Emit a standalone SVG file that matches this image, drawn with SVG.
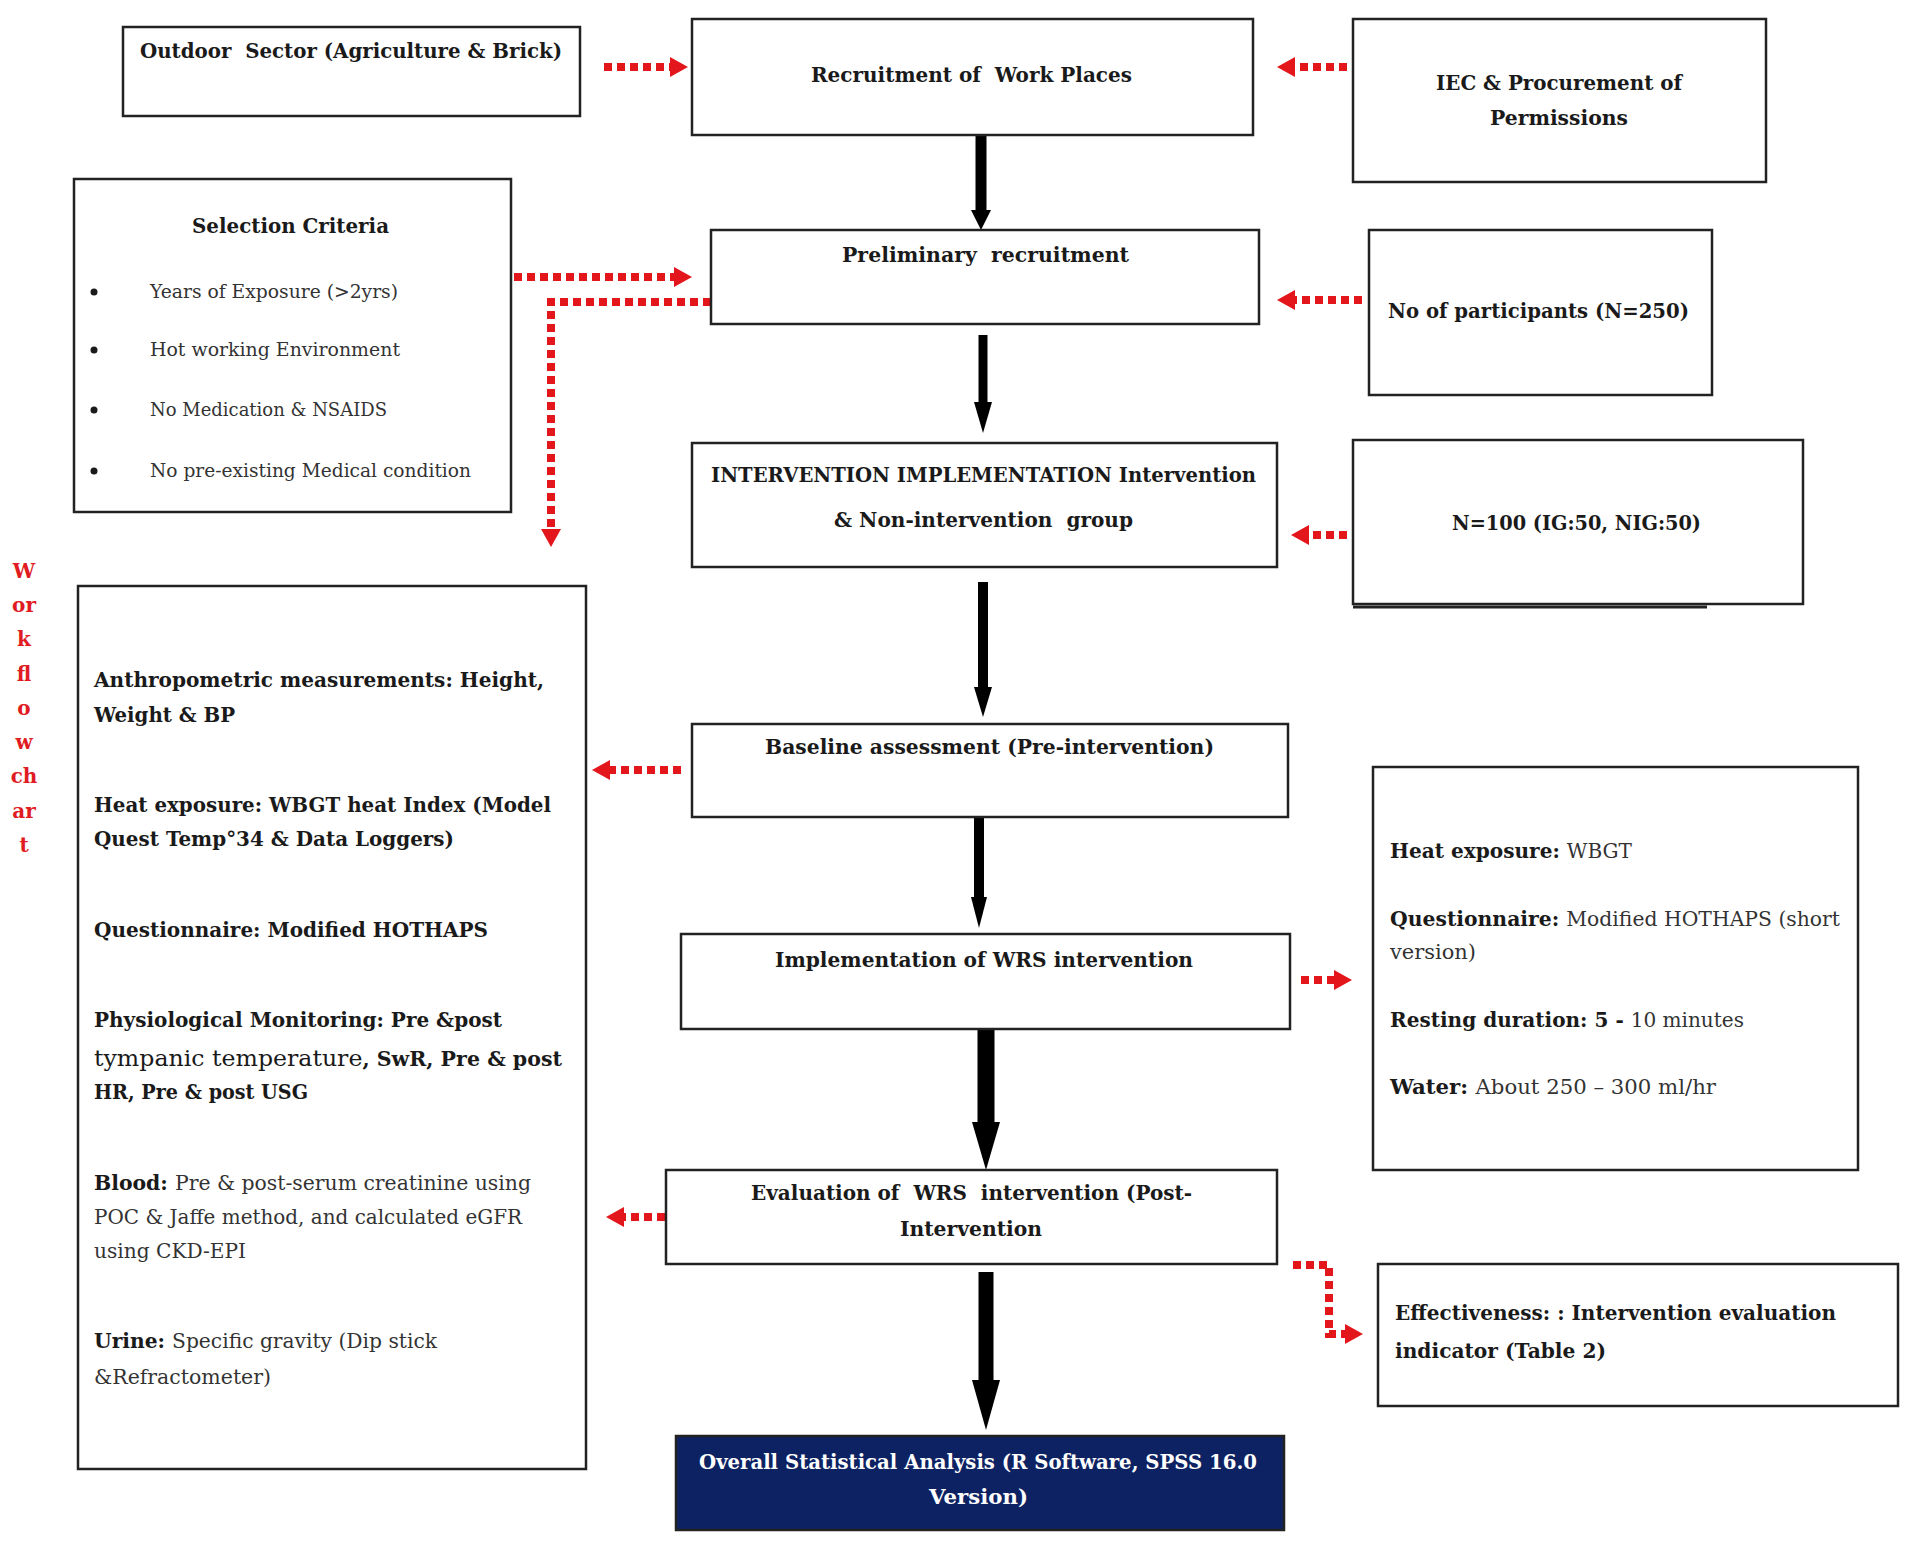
<svg xmlns="http://www.w3.org/2000/svg" width="1907" height="1544" viewBox="0 0 1907 1544">
<style>
.box{fill:#fff;stroke:#222;stroke-width:2.5}
.dark{fill:#0d2262;stroke:#222;stroke-width:2.5}
.t{font-family:"DejaVu Serif","Liberation Serif",serif;font-size:20px;font-weight:bold;fill:#1a1a1a}
.r{font-weight:normal;fill:#333}
.s{font-family:"DejaVu Serif","Liberation Serif",serif;font-size:18px;fill:#333}
.w{fill:#fff}
.v{font-family:"DejaVu Serif","Liberation Serif",serif;font-size:20px;font-weight:bold;fill:#e01b22;text-anchor:middle}
.dot{fill:none;stroke:#e3161c;stroke-width:8;stroke-dasharray:8 5}
.sh{stroke:#000;fill:none}
.hd{fill:#000}
</style>
<defs>
<marker id="rh" markerUnits="userSpaceOnUse" markerWidth="18" markerHeight="20" refX="0" refY="10" orient="auto" overflow="visible">
<path d="M0,0 L18,10 L0,20 z" fill="#e3161c"/>
</marker>
</defs>
<rect width="1907" height="1544" fill="#fff"/>

<g id="connectors">
<path class="dot" d="M604,67 H670" marker-end="url(#rh)"/>
<path class="dot" d="M1347,67 H1295" marker-end="url(#rh)"/>
<path class="dot" d="M514,277 H674" marker-end="url(#rh)"/>
<path class="dot" d="M711,302 H551 V529" marker-end="url(#rh)"/>
<path class="dot" d="M1362,300 H1295" marker-end="url(#rh)"/>
<path class="dot" d="M1347,535 H1309" marker-end="url(#rh)"/>
<path class="dot" d="M681,770 H610" marker-end="url(#rh)"/>
<path class="dot" d="M1301,980 H1334" marker-end="url(#rh)"/>
<path class="dot" d="M665,1217 H624" marker-end="url(#rh)"/>
<path class="dot" d="M1293,1265 H1329 V1334 H1345" marker-end="url(#rh)"/>
<line class="sh" x1="981" y1="136" x2="981" y2="211" stroke-width="11"/>
<polygon class="hd" points="971,210 991,210 981,230"/>
<line class="sh" x1="983" y1="335" x2="983" y2="403" stroke-width="9"/>
<polygon class="hd" points="974,402 992,402 983,433"/>
<line class="sh" x1="983" y1="582" x2="983" y2="688" stroke-width="10"/>
<polygon class="hd" points="974,687 992,687 983,717"/>
<line class="sh" x1="979" y1="818" x2="979" y2="898" stroke-width="10"/>
<polygon class="hd" points="971,897 987,897 979,928"/>
<line class="sh" x1="986" y1="1029" x2="986" y2="1123" stroke-width="17"/>
<polygon class="hd" points="972,1122 1000,1122 986,1170"/>
<line class="sh" x1="986" y1="1272" x2="986" y2="1381" stroke-width="15"/>
<polygon class="hd" points="972,1380 1000,1380 986,1430"/>
</g>

<g id="outdoor">
<rect class="box" x="123" y="27" width="457" height="89"/>
<text class="t" x="140" y="58" textLength="422" lengthAdjust="spacingAndGlyphs" xml:space="preserve">Outdoor  Sector (Agriculture &amp; Brick)</text>
</g>

<g id="recruitment">
<rect class="box" x="692" y="19" width="561" height="116"/>
<text class="t" x="811" y="82" textLength="321" lengthAdjust="spacingAndGlyphs" xml:space="preserve">Recruitment of  Work Places</text>
</g>

<g id="iec">
<rect class="box" x="1353" y="19" width="413" height="163"/>
<text class="t" x="1436" y="90" textLength="246" lengthAdjust="spacingAndGlyphs">IEC &amp; Procurement of</text>
<text class="t" x="1490" y="125" textLength="138" lengthAdjust="spacingAndGlyphs">Permissions</text>
</g>

<g id="selection">
<rect class="box" x="74" y="179" width="437" height="333"/>
<text class="t" x="192" y="233" textLength="197" lengthAdjust="spacingAndGlyphs">Selection Criteria</text>
<circle cx="94" cy="292" r="3.5" fill="#1a1a1a"/>
<circle cx="94" cy="350" r="3.5" fill="#1a1a1a"/>
<circle cx="94" cy="410" r="3.5" fill="#1a1a1a"/>
<circle cx="94" cy="471" r="3.5" fill="#1a1a1a"/>
<text class="s" x="150" y="298" textLength="248" lengthAdjust="spacingAndGlyphs">Years of Exposure (&gt;2yrs)</text>
<text class="s" x="150" y="356" textLength="250" lengthAdjust="spacingAndGlyphs">Hot working Environment</text>
<text class="s" x="150" y="416" textLength="237" lengthAdjust="spacingAndGlyphs">No Medication &amp; NSAIDS</text>
<text class="s" x="150" y="477" textLength="321" lengthAdjust="spacingAndGlyphs">No pre-existing Medical condition</text>
</g>

<g id="preliminary">
<rect class="box" x="711" y="230" width="548" height="94"/>
<text class="t" x="842" y="262" textLength="287" lengthAdjust="spacingAndGlyphs" xml:space="preserve">Preliminary  recruitment</text>
</g>

<g id="participants">
<rect class="box" x="1369" y="230" width="343" height="165"/>
<text class="t" x="1388" y="318" textLength="301" lengthAdjust="spacingAndGlyphs">No of participants (N=250)</text>
</g>

<g id="intervention">
<rect class="box" x="692" y="443" width="585" height="124"/>
<text class="t" x="711" y="482" textLength="545" lengthAdjust="spacingAndGlyphs">INTERVENTION IMPLEMENTATION Intervention</text>
<text class="t" x="834" y="527" textLength="299" lengthAdjust="spacingAndGlyphs" xml:space="preserve">&amp; Non-intervention  group</text>
</g>

<g id="n100">
<rect class="box" x="1353" y="440" width="450" height="164"/>
<line x1="1353" y1="607" x2="1707" y2="607" stroke="#222" stroke-width="3"/>
<text class="t" x="1452" y="530" textLength="249" lengthAdjust="spacingAndGlyphs">N=100 (IG:50, NIG:50)</text>
</g>

<g id="baseline">
<rect class="box" x="692" y="724" width="596" height="93"/>
<text class="t" x="765" y="754" textLength="449" lengthAdjust="spacingAndGlyphs">Baseline assessment (Pre-intervention)</text>
</g>

<g id="implementation">
<rect class="box" x="681" y="934" width="609" height="95"/>
<text class="t" x="775" y="967" textLength="418" lengthAdjust="spacingAndGlyphs">Implementation of WRS intervention</text>
</g>

<g id="evaluation">
<rect class="box" x="666" y="1170" width="611" height="94"/>
<text class="t" x="751" y="1200" textLength="441" lengthAdjust="spacingAndGlyphs" xml:space="preserve">Evaluation of  WRS  intervention (Post-</text>
<text class="t" x="900" y="1236" textLength="142" lengthAdjust="spacingAndGlyphs">Intervention</text>
</g>

<g id="overall">
<rect class="dark" x="676" y="1436" width="608" height="94"/>
<text class="t w" x="699" y="1469" textLength="558" lengthAdjust="spacingAndGlyphs">Overall Statistical Analysis (R Software, SPSS 16.0</text>
<text class="t w" x="929" y="1504" textLength="99" lengthAdjust="spacingAndGlyphs">Version)</text>
</g>

<g id="measurements">
<rect class="box" x="78" y="586" width="508" height="883"/>
<text class="t" x="94" y="687" textLength="450" lengthAdjust="spacingAndGlyphs">Anthropometric measurements: Height,</text>
<text class="t" x="94" y="722" textLength="141" lengthAdjust="spacingAndGlyphs">Weight &amp; BP</text>
<text class="t" x="94" y="812" textLength="457" lengthAdjust="spacingAndGlyphs">Heat exposure: WBGT heat Index (Model</text>
<text class="t" x="94" y="846" textLength="360" lengthAdjust="spacingAndGlyphs">Quest Temp°34 &amp; Data Loggers)</text>
<text class="t" x="94" y="937" textLength="394" lengthAdjust="spacingAndGlyphs">Questionnaire: Modified HOTHAPS</text>
<text class="t" x="94" y="1027" textLength="408" lengthAdjust="spacingAndGlyphs">Physiological Monitoring: Pre &amp;post</text>
<text class="t" x="94" y="1066" textLength="468" lengthAdjust="spacingAndGlyphs"><tspan font-size="23" font-weight="normal">tympanic temperature</tspan>, SwR, Pre &amp; post</text>
<text class="t" x="94" y="1099" textLength="214" lengthAdjust="spacingAndGlyphs">HR, Pre &amp; post USG</text>
<text class="t" x="94" y="1190" textLength="437" lengthAdjust="spacingAndGlyphs">Blood: <tspan class="r">Pre &amp; post-serum creatinine using</tspan></text>
<text class="t r" x="94" y="1224" textLength="428" lengthAdjust="spacingAndGlyphs">POC &amp; Jaffe method, and calculated eGFR</text>
<text class="t r" x="94" y="1258" textLength="152" lengthAdjust="spacingAndGlyphs">using CKD-EPI</text>
<text class="t" x="94" y="1348" textLength="343" lengthAdjust="spacingAndGlyphs">Urine: <tspan class="r">Specific gravity (Dip stick</tspan></text>
<text class="t r" x="94" y="1384" textLength="177" lengthAdjust="spacingAndGlyphs">&amp;Refractometer)</text>
</g>

<g id="wrs-details">
<rect class="box" x="1373" y="767" width="485" height="403"/>
<text class="t" x="1390" y="858" textLength="242" lengthAdjust="spacingAndGlyphs">Heat exposure: <tspan class="r">WBGT</tspan></text>
<text class="t" x="1390" y="926" textLength="450" lengthAdjust="spacingAndGlyphs">Questionnaire: <tspan class="r">Modified HOTHAPS (short</tspan></text>
<text class="t r" x="1390" y="959" textLength="86" lengthAdjust="spacingAndGlyphs">version)</text>
<text class="t" x="1390" y="1027" textLength="354" lengthAdjust="spacingAndGlyphs">Resting duration: 5 - <tspan class="r">10 minutes</tspan></text>
<text class="t" x="1390" y="1094" textLength="326" lengthAdjust="spacingAndGlyphs">Water: <tspan class="r">About 250 – 300 ml/hr</tspan></text>
</g>

<g id="effectiveness">
<rect class="box" x="1378" y="1264" width="520" height="142"/>
<text class="t" x="1395" y="1320" textLength="441" lengthAdjust="spacingAndGlyphs">Effectiveness: : Intervention evaluation</text>
<text class="t" x="1395" y="1358" textLength="211" lengthAdjust="spacingAndGlyphs">indicator (Table 2)</text>
</g>

<g id="workflow-label">
<text class="v" x="24" y="578">W</text>
<text class="v" x="24" y="612">or</text>
<text class="v" x="24" y="646">k</text>
<text class="v" x="24" y="681">fl</text>
<text class="v" x="24" y="715">o</text>
<text class="v" x="24" y="749">w</text>
<text class="v" x="24" y="783">ch</text>
<text class="v" x="24" y="818">ar</text>
<text class="v" x="24" y="852">t</text>
</g>
</svg>
